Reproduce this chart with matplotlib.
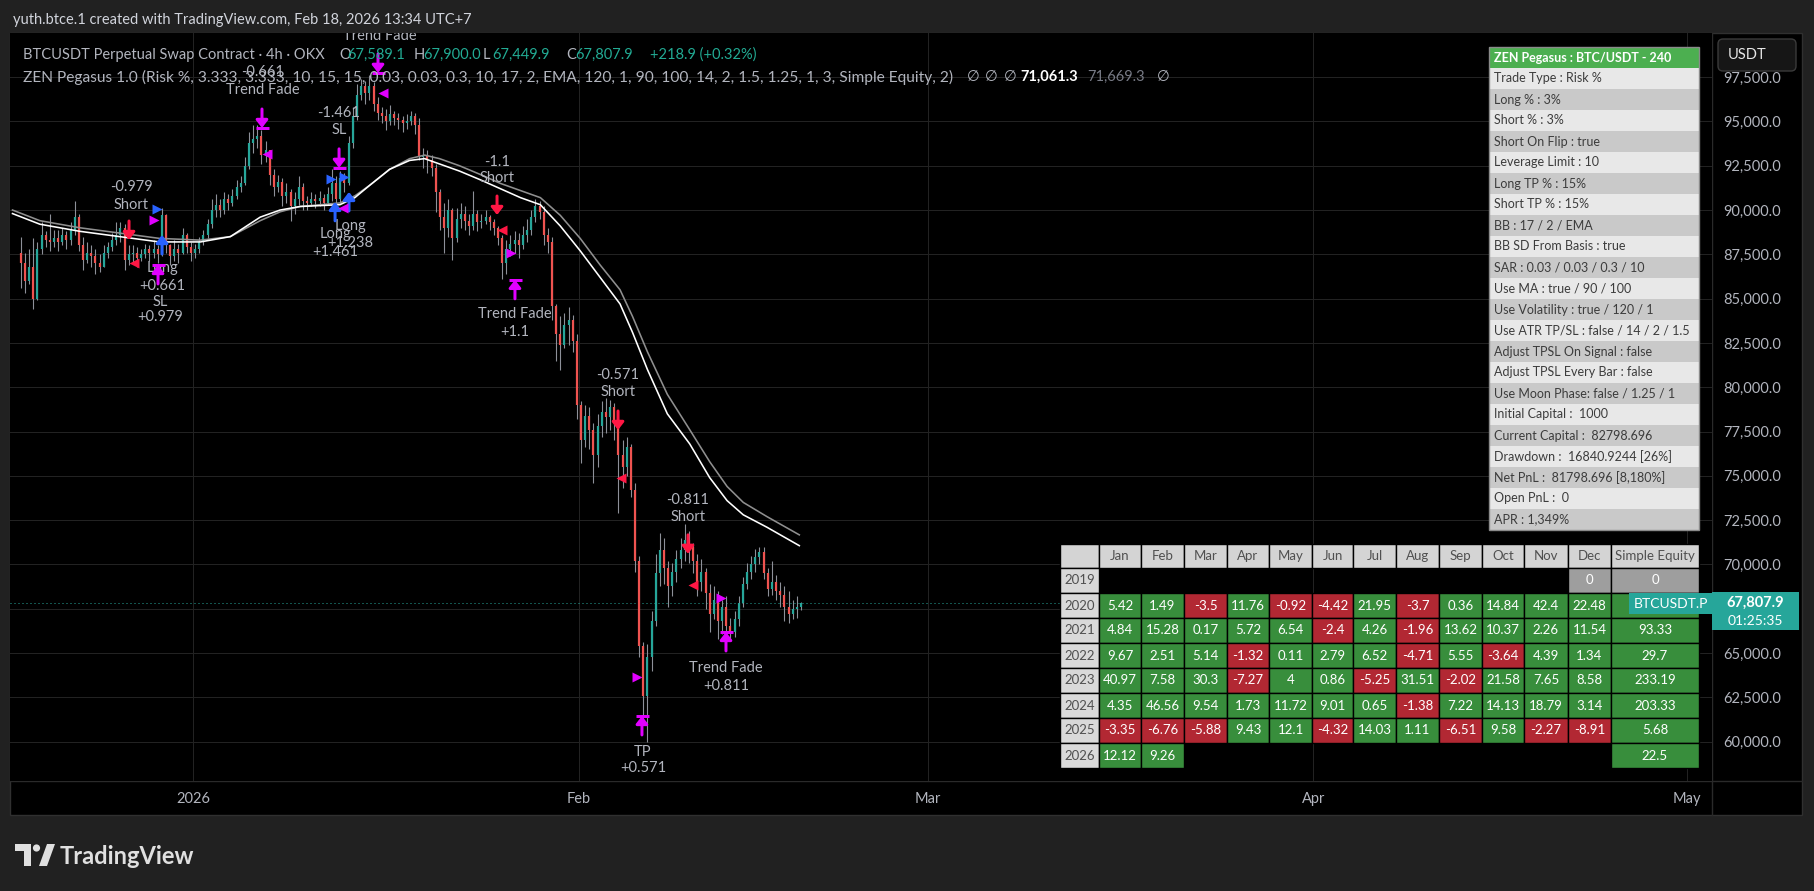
#!/usr/bin/env python3
"""
TradingView-style snapshot: BTCUSDT 4h with ZEN Pegasus strategy overlay,
settings table and monthly returns table.
"""

import numpy as np
import matplotlib
matplotlib.use("Agg")
import matplotlib.pyplot as plt
from matplotlib.patches import Rectangle, FancyBboxPatch, Polygon, Circle

plt.rcParams["font.family"] = ["Lato", "DejaVu Sans"]

W, H = 1815, 891
BG = "#212121"
TXT = "#b2b5be"
TEAL = "#26a69a"
CANDLE_RED = "#ef5350"
SIG_RED = "#ff1744"
MAGENTA = "#e100ff"
BLUE = "#2962ff"
GREEN_CELL = "#388e3c"
RED_CELL = "#b22833"

# ---- price data (8h candles, thousands USDT), first candle Dec 18 2025 ----
FIRST_DAY = -14          # days from Jan 1 2026
FIRST_OPEN = 87.6
CLOSES = [
    87.0, 86.0, 86.8,   85.0, 87.8, 88.6,   88.3, 88.2, 88.4,   88.2, 88.6, 88.3,
    88.9, 89.6, 88.0,   87.2, 87.6, 87.4,   87.0, 86.8, 87.6,   87.9, 88.3, 88.6,
    89.0, 87.2, 87.5,   87.6, 87.3, 87.5,   87.8, 87.6, 87.8,   87.5, 89.7, 88.0,
    87.4, 87.8, 87.6,   88.6, 87.9, 87.6,   87.8, 88.2, 88.6,   89.2, 90.0, 90.3,
    90.0, 90.6, 90.4,   90.8, 91.3, 91.5,   92.5, 93.8, 94.0,   94.2, 93.1, 93.4,
    92.0, 91.3, 91.6,   90.8, 91.0, 90.2,   90.6, 91.3, 90.5,   90.4, 90.6, 90.5,
    90.7, 90.4, 90.9,   91.5, 90.6, 91.8,   91.5, 93.8, 95.3,   96.5, 97.0, 96.6,
    97.0, 96.0, 95.5,   95.3, 95.0, 95.4,   95.2, 95.1, 94.9,   95.0, 95.3, 94.8,
    93.0, 93.1, 92.8,   92.4, 91.0, 89.6,   89.0, 90.0, 88.4,   89.5, 89.8, 89.4,
    89.1, 89.8, 89.3,   89.4, 89.6, 89.3,   89.0, 88.4, 87.0,   87.8, 88.1, 88.3,
    88.0, 88.6, 88.9,   89.6, 90.2, 89.9,   88.6, 88.2, 84.6,   83.0, 82.4, 83.5,
    83.8, 82.6, 79.0,   77.0, 78.4, 77.6,   76.2, 77.8, 78.6,   78.3, 78.9, 78.0,
    76.2, 75.5, 76.6,   74.2, 70.2, 65.4,   62.6, 64.8, 66.8,   69.5, 70.8, 69.8,
    68.8, 69.6, 70.3,   70.8, 71.4, 71.0,   70.2, 69.0, 69.6,   68.4, 67.2, 68.0,
    66.8, 67.6, 66.5,   66.2, 66.9, 67.8,   68.9, 69.6, 70.0,   70.4, 70.7, 69.5,
    68.6, 69.0, 68.5,   68.3, 67.6, 67.2,   67.5, 67.6, 67.8079,
]
HIGHS = [
    88.5, 87.6, 87.8,   88.4, 88.2, 89.3,   88.8, 89.8, 88.9,   88.9, 89.0, 88.8,
    89.3, 90.5, 89.8,   88.5, 88.2, 88.0,   87.8, 87.5, 88.0,   88.2, 88.7, 89.3,
    89.3, 89.2, 88.0,   88.0, 87.9, 87.8,   88.1, 88.0, 88.3,   88.0, 90.1, 89.8,
    88.1, 88.3, 88.1,   89.0, 88.7, 88.2,   88.1, 88.5, 88.9,   89.5, 90.6, 90.9,
    90.6, 91.0, 90.9,   91.2, 91.7, 91.9,   93.0, 94.4, 94.8,   94.8, 94.5, 93.9,
    93.4, 92.3, 92.0,   91.8, 91.5, 91.2,   91.0, 91.9, 91.5,   90.8, 91.0, 90.9,
    91.1, 90.9, 91.3,   92.3, 91.9, 92.2,   92.1, 94.2, 95.8,   97.1, 97.4, 97.3,
    97.6, 97.2, 96.4,   95.8, 95.7, 95.9,   95.6, 95.5, 95.3,   95.4, 95.6, 95.5,
    95.2, 93.5, 93.4,   93.1, 92.6, 91.2,   90.4, 90.6, 90.1,   90.1, 90.4, 90.2,
    89.8, 91.1, 90.0,   89.8, 90.0, 89.7,   89.5, 89.1, 88.6,   88.3, 88.6, 88.8,
    88.7, 89.1, 89.5,   90.0, 90.6, 90.5,   90.2, 89.0, 88.5,   84.7, 84.0, 84.2,
    84.5, 84.1, 83.0,   79.2, 79.0, 78.9,   78.0, 78.5, 79.2,   79.4, 79.3, 79.1,
    78.1, 77.0, 77.2,   76.8, 74.6, 70.5,   65.6, 65.5, 67.4,   70.6, 71.8, 71.5,
    70.2, 70.1, 70.8,   71.5, 72.3, 71.9,   71.2, 70.6, 70.3,   69.8, 68.9, 68.8,
    68.5, 68.0, 68.2,   67.0, 67.4, 68.2,   69.3, 70.1, 70.5,   70.9, 71.0, 71.0,
    69.8, 70.2, 69.4,   69.0, 68.8, 68.5,   68.0, 68.2, 67.9,
]
LOWS = [
    85.6, 85.3, 85.8,   84.4, 84.9, 87.5,   87.9, 87.7, 87.9,   87.7, 88.0, 87.8,
    88.0, 88.6, 87.7,   86.6, 87.0, 86.8,   86.4, 86.5, 86.8,   87.3, 87.7, 88.0,
    88.2, 86.6, 86.9,   87.0, 86.8, 87.1,   87.3, 87.1, 87.3,   87.0, 87.4, 87.6,
    86.9, 87.1, 87.0,   87.5, 87.6, 87.1,   87.3, 87.6, 88.0,   88.4, 89.0, 89.6,
    89.6, 89.8, 90.0,   90.2, 90.6, 91.0,   91.4, 92.3, 93.2,   93.5, 92.6, 92.7,
    91.4, 90.8, 91.0,   90.2, 90.4, 89.4,   89.8, 90.3, 90.0,   90.0, 90.2, 90.1,
    90.2, 90.0, 90.3,   90.5, 90.2, 90.4,   91.0, 91.4, 93.5,   95.1, 96.2, 96.0,
    96.2, 95.6, 95.1,   94.9, 94.5, 94.8,   94.8, 94.6, 94.4,   94.6, 94.8, 94.3,
    92.8, 92.4, 92.1,   91.9, 89.9, 88.9,   87.6, 88.5, 87.2,   88.2, 89.0, 88.9,
    88.6, 88.9, 88.8,   89.0, 89.2, 88.9,   88.6, 88.0, 86.1,   86.4, 87.4, 87.6,
    87.3, 87.8, 88.2,   88.6, 89.3, 89.5,   88.0, 87.6, 83.8,   81.5, 81.0, 82.2,
    82.4, 82.0, 78.2,   75.7, 76.6, 76.5,   74.6, 75.5, 77.2,   77.4, 77.6, 77.0,
    72.9, 74.3, 75.0,   73.8, 69.6, 64.8,   61.2, 60.0, 64.0,   66.5, 68.8, 68.9,
    67.6, 68.2, 69.0,   69.8, 70.2, 70.1,   69.5, 68.2, 68.5,   67.5, 66.2, 66.9,
    65.8, 66.1, 66.0,   65.7, 65.9, 66.5,   67.6, 68.6, 69.2,   69.6, 70.0, 69.2,
    68.2, 68.3, 68.0,   67.6, 66.8, 66.7,   66.9, 67.0, 67.45,
]
LAST_PRICE = 67.8079

# moving averages (white = 71,061.3 at the end, gray = 71,669.3)
MA_DAYS = [-14.5, -12.3, -9.1, -5.9, -2.7, 0.6, 3.0, 5.4, 7.0, 8.6, 11.8, 13.0,
           14.2, 15.8, 17.4, 18.6, 19.8, 21.4, 23.1, 24.7, 26.3, 27.9, 29.5,
           31.1, 32.7, 34.3, 35.3, 36.5, 38.1, 39.9, 41.5, 42.9, 44.2, 46.1, 48.7]
MA_WHITE = [89.8, 89.2, 88.8, 88.5, 88.2, 88.2, 88.5, 89.6, 90.0, 90.2, 90.3, 90.7,
            91.4, 92.3, 92.8, 92.9, 92.6, 92.2, 91.7, 91.2, 90.7, 90.3, 89.1,
            87.7, 86.2, 84.7, 83.1, 81.0, 78.5, 76.8, 74.9, 73.6, 72.8, 72.1, 71.06]
MA_GRAY = [90.0, 89.4, 89.0, 88.7, 88.4, 88.3, 88.5, 89.4, 89.9, 90.2, 90.4, 90.8,
           91.4, 92.3, 92.9, 93.1, 92.9, 92.5, 92.0, 91.5, 91.1, 90.7, 89.7,
           88.4, 86.9, 85.5, 84.0, 82.0, 79.6, 77.6, 75.8, 74.4, 73.5, 72.7, 71.67]

PRICE_TICKS = [60, 62.5, 65, 67.5, 70, 72.5, 75, 77.5, 80, 82.5, 85, 87.5,
               90, 92.5, 95, 97.5]
MONTH_TICKS = [0, 31, 59, 90, 120]
MONTH_LABELS = ["2026", "Feb", "Mar", "Apr", "May"]

# strategy signals: (day, price, direction, colour)
ENTRY_ARROWS = [(-5.14, 88.31, "down", SIG_RED), (-2.49, 88.59, "up", BLUE),
                (11.41, 90.46, "up", BLUE), (12.53, 91.02, "up", BLUE),
                (24.42, 89.72, "down", SIG_RED), (34.14, 77.59, "down", SIG_RED),
                (39.76, 70.60, "down", SIG_RED)]
EXIT_ARROWS = [(-2.81, 86.90, "up"), (5.54, 94.63, "down"), (11.73, 92.38, "down"),
               (14.86, 97.74, "down"), (25.86, 86.06, "up"), (36.06, 61.45, "up"),
               (42.81, 66.19, "up")]
TRIANGLES = [(-4.74, 87.01, "<", SIG_RED), (-2.89, 90.06, ">", BLUE),
             (-3.13, 89.44, ">", MAGENTA), (5.94, 93.17, "<", MAGENTA),
             (11.08, 91.76, ">", BLUE), (12.13, 91.87, ">", BLUE),
             (12.05, 90.12, "<", MAGENTA), (15.26, 96.61, "<", MAGENTA),
             (24.82, 88.88, "<", SIG_RED), (25.54, 87.58, ">", MAGENTA),
             (34.38, 74.88, "<", SIG_RED), (35.66, 63.65, ">", MAGENTA),
             (40.16, 68.85, "<", SIG_RED), (42.41, 68.12, ">", MAGENTA)]
LABELS = [(-4.98, 91.30, "-0.979"), (-4.98, 90.29, "Short"),
          (-2.49, 86.73, "Long"), (-2.49, 85.72, "+0.661"),
          (-2.65, 84.81, "SL"), (-2.65, 83.97, "+0.979"),
          (5.62, 97.79, "-0.661"), (5.62, 96.78, "Trend Fade"),
          (11.73, 95.48, "-1.461"), (11.73, 94.52, "SL"),
          (12.61, 89.10, "Long"), (12.61, 88.14, "+1.238"),
          (11.41, 88.65, "Long"), (11.41, 87.64, "+1.461"),
          (15.02, 99.83, "Trend Fade"),
          (24.42, 92.71, "-1.1"), (24.42, 91.81, "Short"),
          (25.86, 84.14, "Trend Fade"), (25.86, 83.12, "+1.1"),
          (34.14, 80.69, "-0.571"), (34.14, 79.73, "Short"),
          (36.14, 59.42, "TP"), (36.14, 58.52, "+0.571"),
          (39.76, 73.64, "-0.811"), (39.76, 72.69, "Short"),
          (42.81, 64.16, "Trend Fade"), (42.81, 63.15, "+0.811")]

# settings table
SETTINGS_TITLE = "ZEN Pegasus : BTC/USDT - 240"
SETTINGS = ["Trade Type : Risk %", "Long % : 3%", "Short % : 3%",
            "Short On Flip : true", "Leverage Limit : 10", "Long TP % : 15%",
            "Short TP % : 15%", "BB : 17 / 2 / EMA", "BB SD From Basis : true",
            "SAR : 0.03 / 0.03 / 0.3 / 10", "Use MA : true / 90 / 100",
            "Use Volatility : true / 120 / 1",
            "Use ATR TP/SL : false / 14 / 2 / 1.5",
            "Adjust TPSL On Signal : false", "Adjust TPSL Every Bar : false",
            "Use Moon Phase: false / 1.25 / 1", "Initial Capital :  1000",
            "Current Capital :  82798.696", "Drawdown :  16840.9244 [26%]",
            "Net PnL :  81798.696 [8,180%]", "Open PnL :  0", "APR : 1,349%"]

# monthly returns table (None = empty cell, "" = cell hidden under price tag)
MONTHS = ["Jan", "Feb", "Mar", "Apr", "May", "Jun", "Jul", "Aug", "Sep",
          "Oct", "Nov", "Dec", "Simple Equity"]
YEARS = ["2019", "2020", "2021", "2022", "2023", "2024", "2025", "2026"]
R2019 = [None] * 11 + ["0", "0"]
R2020 = ["5.42", "1.49", "-3.5", "11.76", "-0.92", "-4.42", "21.95", "-3.7",
         "0.36", "14.84", "42.4", "22.48", ""]
R2021 = ["4.84", "15.28", "0.17", "5.72", "6.54", "-2.4", "4.26", "-1.96",
         "13.62", "10.37", "2.26", "11.54", "93.33"]
R2022 = ["9.67", "2.51", "5.14", "-1.32", "0.11", "2.79", "6.52", "-4.71",
         "5.55", "-3.64", "4.39", "1.34", "29.7"]
R2023 = ["40.97", "7.58", "30.3", "-7.27", "4", "0.86", "-5.25", "31.51",
         "-2.02", "21.58", "7.65", "8.58", "233.19"]
R2024 = ["4.35", "46.56", "9.54", "1.73", "11.72", "9.01", "0.65", "-1.38",
         "7.22", "14.13", "18.79", "3.14", "203.33"]
R2025 = ["-3.35", "-6.76", "-5.88", "9.43", "12.1", "-4.32", "14.03", "1.11",
         "-6.51", "9.58", "-2.27", "-8.91", "5.68"]
R2026 = ["12.12", "9.26"] + [None] * 10 + ["22.5"]
RETURNS = [R2019, R2020, R2021, R2022, R2023, R2024, R2025, R2026]


def pt(px):
    return px * 0.72


def draw_candles(ax):
    closes = np.array(CLOSES)
    opens = np.r_[FIRST_OPEN, closes[:-1]]
    x = FIRST_DAY + (np.arange(len(closes)) + 0.5) / 3
    ax.vlines(x, LOWS, HIGHS, color="#8d9099", lw=pt(1.1), zorder=2)
    up = closes >= opens
    ax.vlines(x[up], opens[up], closes[up], color=TEAL, lw=pt(2.2), zorder=3)
    ax.vlines(x[~up], opens[~up], closes[~up], color=CANDLE_RED, lw=pt(2.2), zorder=3)
    ax.plot(MA_DAYS, MA_GRAY, color="#8f8f8f", lw=pt(1.6), zorder=4)
    ax.plot(MA_DAYS, MA_WHITE, color="#ffffff", lw=pt(1.6), zorder=4)


def draw_arrow(ax, day, tip, direction, color):
    off = pt(19) if direction == "down" else -pt(19)
    ax.annotate("", xy=(day, tip), xytext=(0, off), textcoords="offset points",
                arrowprops=dict(arrowstyle="-|>,head_length=0.45,head_width=0.35",
                                color=color, lw=pt(3), shrinkA=0, shrinkB=0,
                                mutation_scale=10), zorder=7)


def draw_signals(ax):
    for d, p, t in LABELS:
        ax.text(d, p, t, ha="center", va="center", color=TXT, fontsize=10.5,
                clip_on=True, zorder=5)
    for d, p, direction, c in ENTRY_ARROWS:
        draw_arrow(ax, d, p, direction, c)
    for d, p, direction in EXIT_ARROWS:
        draw_arrow(ax, d, p, direction, MAGENTA)
        ax.plot(d, p, marker="_", ms=pt(13), mew=pt(3), color=MAGENTA, zorder=7)
    for d, p, m, c in TRIANGLES:
        ax.plot(d, p, marker=m, ms=pt(10), color=c, mec="none", zorder=7)


def draw_frame(bg):
    bg.add_patch(Rectangle((10, 33), 1792, 782, fc="black", ec="#303030", lw=1))
    bg.plot([10, 1802], [781, 781], color="#2a2a2a", lw=1)
    bg.plot([1712, 1712], [33, 815], color="#2a2a2a", lw=1)
    bg.text(13, 20, "yuth.btce.1 created with TradingView.com, Feb 18, 2026 13:34 UTC+7",
            color="#d1d4dc", fontsize=10.5, va="center")
    # logo
    bg.add_patch(Polygon([(15, 844), (31, 844), (31, 866), (24, 866), (24, 851), (15, 851)],
                         closed=True, fc="#e0e0e0", ec="none"))
    bg.add_patch(Circle((36.5, 848), 3.6, fc="#e0e0e0", ec="none"))
    bg.add_patch(Polygon([(39, 866), (47, 866), (55, 844), (47, 844)],
                         closed=True, fc="#e0e0e0", ec="none"))
    bg.text(60, 856, "TradingView", color="#e0e0e0", fontsize=17, fontweight="bold",
            va="center")


def draw_legend(ov):
    y1, y2 = 55, 77
    ov.text(23, y1, "BTCUSDT Perpetual Swap Contract · 4h · OKX", color=TXT,
            fontsize=10.5, va="center")
    for s, x, c in [("O", 339, TXT), ("67,589.1", 347, "#22ab94"), ("H", 414, TXT),
                    ("67,900.0", 423, "#22ab94"), ("L", 483, TXT),
                    ("67,449.9", 492, "#22ab94"), ("C", 566, TXT),
                    ("67,807.9", 575, "#22ab94"), ("+218.9 (+0.32%)", 650, "#22ab94")]:
        ov.text(x, y1, s, color=c, fontsize=10.5, va="center")
    ov.text(23, y2, "ZEN Pegasus 1.0 (Risk %, 3.333, 3.333, 10, 15, 15, 0.03, 0.03, 0.3, "
            "10, 17, 2, EMA, 120, 1, 90, 100, 14, 2, 1.5, 1.25, 1, 3, Simple Equity, 2)",
            color=TXT, fontsize=11.2, va="center")
    for x in (967, 985, 1004, 1157):
        ov.text(x, y2, "∅", color=TXT, fontsize=10.5, va="center")
    ov.text(1020, y2, "71,061.3", color="white", fontsize=10.5, fontweight="bold", va="center")
    ov.text(1087, y2, "71,669.3", color="#787b86", fontsize=10.5, va="center")


def draw_settings(ov):
    x0, x1, top, rh = 1489, 1699, 47, 21
    ov.add_patch(Rectangle((x0, top), x1 - x0, rh, fc="#4caf50", ec="none"))
    ov.text(x0 + 5, top + rh / 2, SETTINGS_TITLE, color="white", fontsize=9,
            fontweight="bold", va="center")
    for i, s in enumerate(SETTINGS):
        y = top + rh * (i + 1)
        ov.add_patch(Rectangle((x0, y), x1 - x0, rh,
                               fc="#e8e8e8" if i % 2 == 0 else "#c9c9c9", ec="none"))
        ov.text(x0 + 5, y + rh / 2, s, color="#3c3c3c", fontsize=9, va="center")
    ov.add_patch(Rectangle((x0, top), x1 - x0, rh * (len(SETTINGS) + 1),
                           fc="none", ec="#8a8a8a", lw=1))


def draw_monthly(ov):
    cols = [1060, 1099, 1141, 1184, 1227, 1269, 1312, 1353, 1396, 1439, 1482,
            1524, 1568, 1611, 1699]
    top, hh, rh = 544, 24, 25

    def cell(c, y, h, fc, txt, tc):
        ov.add_patch(Rectangle((cols[c], y), cols[c + 1] - cols[c], h, fc=fc,
                               ec="black", lw=1))
        if txt:
            ov.text((cols[c] + cols[c + 1]) / 2, y + h / 2, txt, color=tc,
                    fontsize=9.5, ha="center", va="center")

    cell(0, top, hh, "#d4d4d4", "", "#505050")
    for j, m in enumerate(MONTHS):
        cell(j + 1, top, hh, "#d4d4d4", m, "#505050")
    for i, (yr, vals) in enumerate(zip(YEARS, RETURNS)):
        y = top + hh + rh * i
        cell(0, y, rh, "#d9d9d9", yr, "#505050")
        for j, v in enumerate(vals):
            if v is None:
                continue
            if v == "0":
                fc = "#9e9e9e"
            elif v.startswith("-"):
                fc = RED_CELL
            else:
                fc = GREEN_CELL
            cell(j + 1, y, rh, fc, v, "white")


def draw_price_tags(ov):
    ov.add_patch(Rectangle((1629, 593), 83, 21, fc=TEAL, ec="none"))
    ov.text(1670.5, 603.5, "BTCUSDT.P", color="white", fontsize=10, ha="center", va="center")
    ov.add_patch(Rectangle((1712, 592), 87, 38, fc=TEAL, ec="none"))
    ov.text(1755, 603, "67,807.9", color="white", fontsize=10.5, fontweight="bold",
            ha="center", va="center")
    ov.text(1755, 621, "01:25:35", color="white", fontsize=10, ha="center", va="center")
    ov.add_patch(FancyBboxPatch((1718, 39), 78, 32,
                                boxstyle="round,pad=0,rounding_size=5",
                                fc="#161616", ec="#3a3a3a", lw=1))
    ov.text(1728, 55, "USDT", color="#e6e6e6", fontsize=10.5, va="center")


def main():
    fig = plt.figure(figsize=(W / 100, H / 100), dpi=100, facecolor=BG)

    bg = fig.add_axes([0, 0, 1, 1], zorder=-1)
    bg.set_xlim(0, W)
    bg.set_ylim(H, 0)
    bg.axis("off")
    draw_frame(bg)

    ax = fig.add_axes([10 / W, (H - 781) / H, 1702 / W, 748 / H], zorder=1)
    ax.set_facecolor("black")
    ax.set_xlim(-14.70, 122.01)
    ax.set_ylim(57.78, 99.99)
    for s in ax.spines.values():
        s.set_visible(False)
    ax.yaxis.tick_right()
    ax.set_yticks(PRICE_TICKS, [f"{v * 1000:,.1f}" for v in PRICE_TICKS])
    ax.set_xticks(MONTH_TICKS, MONTH_LABELS)
    ax.tick_params(axis="y", length=0, pad=pt(11), labelsize=10.5, labelcolor=TXT)
    ax.tick_params(axis="x", length=0, pad=pt(11), labelsize=10.5, labelcolor=TXT)
    ax.grid(True, color="#222222", lw=pt(1))
    ax.set_axisbelow(True)
    ax.axhline(LAST_PRICE, color=TEAL, lw=pt(1), ls=(0, (1, 3)), zorder=1)

    draw_candles(ax)
    draw_signals(ax)

    ov = fig.add_axes([0, 0, 1, 1], zorder=5)
    ov.set_xlim(0, W)
    ov.set_ylim(H, 0)
    ov.axis("off")
    ov.patch.set_alpha(0)
    draw_legend(ov)
    draw_settings(ov)
    draw_monthly(ov)
    draw_price_tags(ov)

    fig.savefig("out.png", dpi=100, facecolor=BG)


if __name__ == "__main__":
    main()
